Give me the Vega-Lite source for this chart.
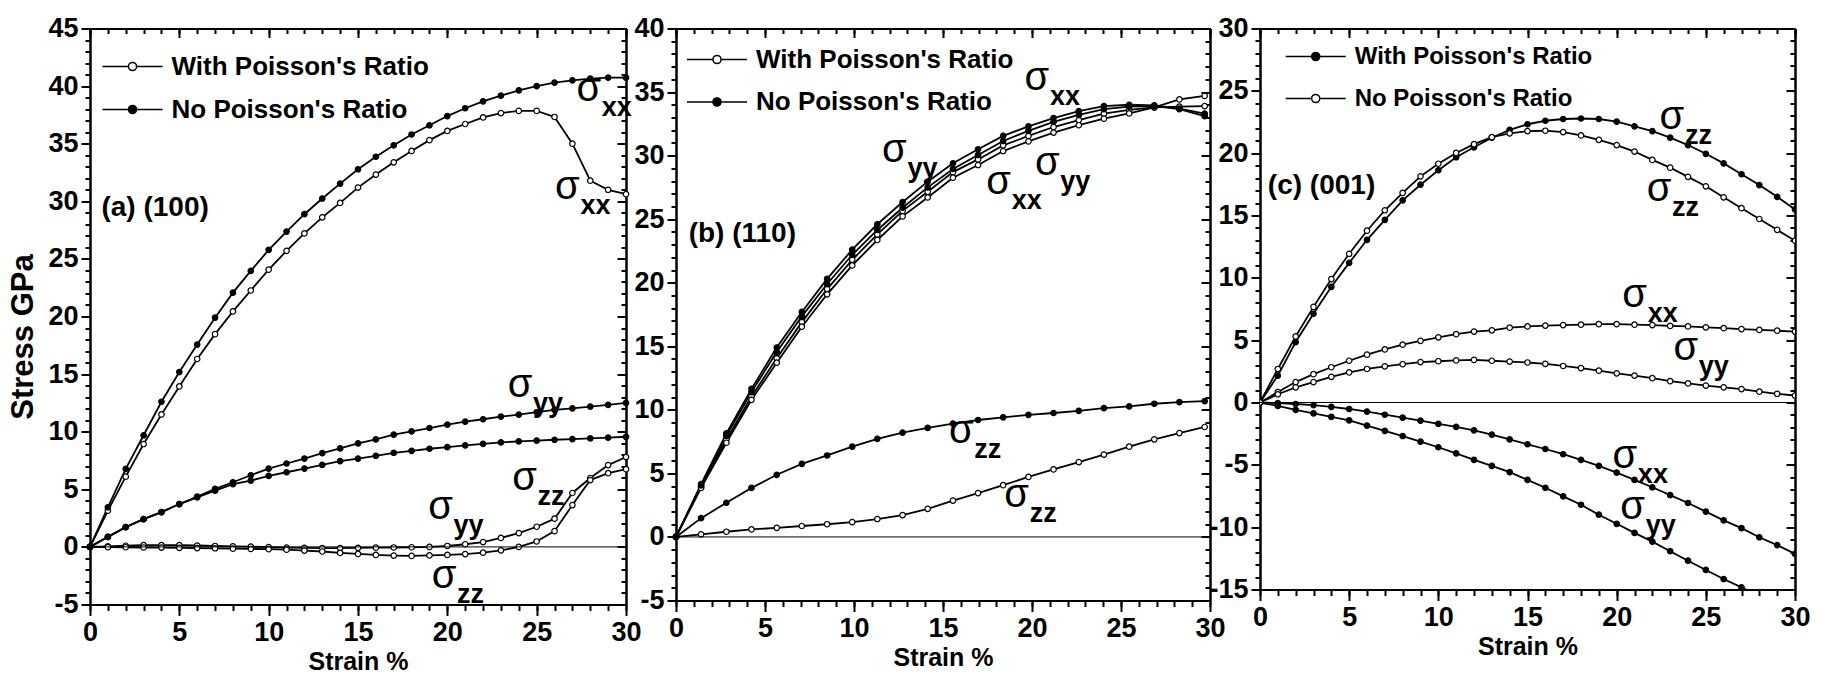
{
"$schema": "https://vega.github.io/schema/vega-lite/v6.json",
"background": "white",
"padding": {"left": 7, "top": 14.5, "right": 0, "bottom": 0},
"datasets": {
"a": [
{"x":0,"xxW":0,"yyW":0,"zzW":0,"xxN":0,"yyN":0,"zzN":0},
{"x":1,"xxW":3.14,"yyW":0.05,"zzW":-0.02,"xxN":3.44,"yyN":0.87,"zzN":0.87},
{"x":2,"xxW":6.1,"yyW":0.1,"zzW":-0.03,"xxN":6.78,"yyN":1.72,"zzN":1.72},
{"x":3,"xxW":8.93,"yyW":0.15,"zzW":-0.05,"xxN":9.69,"yyN":2.41,"zzN":2.41},
{"x":4,"xxW":11.5,"yyW":0.15,"zzW":-0.06,"xxN":12.6,"yyN":3.02,"zzN":3.02},
{"x":5,"xxW":13.93,"yyW":0.15,"zzW":-0.08,"xxN":15.18,"yyN":3.72,"zzN":3.72},
{"x":6,"xxW":16.31,"yyW":0.12,"zzW":-0.1,"xxN":17.56,"yyN":4.36,"zzN":4.3},
{"x":7,"xxW":18.47,"yyW":0.08,"zzW":-0.12,"xxN":19.9,"yyN":5.03,"zzN":4.88},
{"x":8,"xxW":20.44,"yyW":0.05,"zzW":-0.15,"xxN":22.07,"yyN":5.61,"zzN":5.44},
{"x":9,"xxW":22.26,"yyW":0.02,"zzW":-0.18,"xxN":23.96,"yyN":6.22,"zzN":5.76},
{"x":10,"xxW":24.07,"yyW":-0.02,"zzW":-0.2,"xxN":25.78,"yyN":6.8,"zzN":6.16},
{"x":11,"xxW":25.7,"yyW":-0.06,"zzW":-0.24,"xxN":27.37,"yyN":7.24,"zzN":6.48},
{"x":12,"xxW":27.21,"yyW":-0.08,"zzW":-0.32,"xxN":28.88,"yyN":7.67,"zzN":6.8},
{"x":13,"xxW":28.61,"yyW":-0.1,"zzW":-0.4,"xxN":30.24,"yyN":8.14,"zzN":7.12},
{"x":14,"xxW":29.86,"yyW":-0.1,"zzW":-0.52,"xxN":31.53,"yyN":8.55,"zzN":7.44},
{"x":15,"xxW":31.19,"yyW":-0.08,"zzW":-0.61,"xxN":32.78,"yyN":8.98,"zzN":7.67},
{"x":16,"xxW":32.32,"yyW":-0.07,"zzW":-0.7,"xxN":33.87,"yyN":9.33,"zzN":7.91},
{"x":17,"xxW":33.38,"yyW":-0.05,"zzW":-0.75,"xxN":34.86,"yyN":9.74,"zzN":8.17},
{"x":18,"xxW":34.37,"yyW":-0.03,"zzW":-0.78,"xxN":35.8,"yyN":10.03,"zzN":8.34},
{"x":19,"xxW":35.31,"yyW":0.0,"zzW":-0.74,"xxN":36.6,"yyN":10.32,"zzN":8.52},
{"x":20,"xxW":36.11,"yyW":0.08,"zzW":-0.7,"xxN":37.4,"yyN":10.61,"zzN":8.66},
{"x":21,"xxW":36.71,"yyW":0.23,"zzW":-0.62,"xxN":38.08,"yyN":10.87,"zzN":8.81},
{"x":22,"xxW":37.28,"yyW":0.42,"zzW":-0.5,"xxN":38.68,"yyN":11.08,"zzN":8.95},
{"x":23,"xxW":37.66,"yyW":0.78,"zzW":-0.3,"xxN":39.17,"yyN":11.31,"zzN":9.07},
{"x":24,"xxW":37.85,"yyW":1.2,"zzW":0.0,"xxN":39.63,"yyN":11.48,"zzN":9.16},
{"x":25,"xxW":37.85,"yyW":1.75,"zzW":0.47,"xxN":40.0,"yyN":11.69,"zzN":9.22},
{"x":26,"xxW":37.32,"yyW":2.45,"zzW":1.37,"xxN":40.3,"yyN":11.89,"zzN":9.3},
{"x":27,"xxW":35.0,"yyW":4.68,"zzW":3.63,"xxN":40.5,"yyN":12.03,"zzN":9.36},
{"x":28,"xxW":31.79,"yyW":5.98,"zzW":5.8,"xxN":40.65,"yyN":12.18,"zzN":9.42},
{"x":29,"xxW":31.0,"yyW":7.1,"zzW":6.4,"xxN":40.73,"yyN":12.33,"zzN":9.48},
{"x":30,"xxW":30.62,"yyW":7.8,"zzW":6.75,"xxN":40.73,"yyN":12.5,"zzN":9.56}
],
"b": [
{"x":0,"xxW":0,"yyW":0,"zzW":0,"xxN":0,"yyN":0,"zzN":0},
{"x":1.41,"xxW":3.95,"yyW":3.86,"zzW":0.21,"xxN":4.15,"yyN":4.05,"zzN":1.48},
{"x":2.83,"xxW":7.65,"yyW":7.41,"zzW":0.41,"xxN":8.15,"yyN":7.95,"zzN":2.69},
{"x":4.24,"xxW":11.05,"yyW":10.79,"zzW":0.59,"xxN":11.65,"yyN":11.4,"zzN":3.86},
{"x":5.66,"xxW":14.05,"yyW":13.71,"zzW":0.72,"xxN":14.9,"yyN":14.55,"zzN":4.89},
{"x":7.07,"xxW":16.9,"yyW":16.54,"zzW":0.86,"xxN":17.7,"yyN":17.35,"zzN":5.75},
{"x":8.49,"xxW":19.5,"yyW":19.09,"zzW":1.0,"xxN":20.3,"yyN":19.9,"zzN":6.41},
{"x":9.9,"xxW":21.8,"yyW":21.36,"zzW":1.17,"xxN":22.6,"yyN":22.2,"zzN":7.1},
{"x":11.31,"xxW":23.8,"yyW":23.36,"zzW":1.41,"xxN":24.6,"yyN":24.15,"zzN":7.72},
{"x":12.73,"xxW":25.65,"yyW":25.22,"zzW":1.72,"xxN":26.35,"yyN":25.9,"zzN":8.2},
{"x":14.14,"xxW":27.15,"yyW":26.71,"zzW":2.21,"xxN":27.95,"yyN":27.5,"zzN":8.58},
{"x":15.56,"xxW":28.7,"yyW":28.26,"zzW":2.86,"xxN":29.4,"yyN":28.95,"zzN":8.92},
{"x":16.97,"xxW":29.7,"yyW":29.26,"zzW":3.45,"xxN":30.5,"yyN":30.05,"zzN":9.2},
{"x":18.38,"xxW":30.8,"yyW":30.36,"zzW":4.07,"xxN":31.55,"yyN":31.15,"zzN":9.41},
{"x":19.8,"xxW":31.55,"yyW":31.12,"zzW":4.72,"xxN":32.3,"yyN":31.95,"zzN":9.61},
{"x":21.21,"xxW":32.25,"yyW":31.81,"zzW":5.31,"xxN":32.95,"yyN":32.65,"zzN":9.75},
{"x":22.63,"xxW":32.8,"yyW":32.39,"zzW":5.89,"xxN":33.5,"yyN":33.2,"zzN":9.92},
{"x":24.04,"xxW":33.3,"yyW":32.91,"zzW":6.48,"xxN":33.9,"yyN":33.65,"zzN":10.13},
{"x":25.46,"xxW":33.6,"yyW":33.32,"zzW":7.1,"xxN":34.0,"yyN":33.85,"zzN":10.27},
{"x":26.87,"xxW":33.8,"yyW":33.8,"zzW":7.68,"xxN":33.95,"yyN":33.9,"zzN":10.48},
{"x":28.28,"xxW":33.85,"yyW":34.42,"zzW":8.17,"xxN":33.7,"yyN":33.65,"zzN":10.61},
{"x":29.7,"xxW":33.9,"yyW":34.7,"zzW":8.65,"xxN":33.3,"yyN":33.1,"zzN":10.68}
],
"c": [
{"x":0,"xxW":0,"yyW":0,"zzW":0,"xxN":0,"yyN":0,"zzN":0},
{"x":1,"xxW":-0.05,"yyW":-0.28,"zzW":2.16,"xxN":0.84,"yyN":0.66,"zzN":2.69},
{"x":2,"xxW":-0.12,"yyW":-0.59,"zzW":4.85,"xxN":1.64,"yyN":1.22,"zzN":5.3},
{"x":3,"xxW":-0.21,"yyW":-0.87,"zzW":7.12,"xxN":2.27,"yyN":1.64,"zzN":7.67},
{"x":4,"xxW":-0.35,"yyW":-1.15,"zzW":9.28,"xxN":2.83,"yyN":2.06,"zzN":9.9},
{"x":5,"xxW":-0.52,"yyW":-1.43,"zzW":11.2,"xxN":3.35,"yyN":2.41,"zzN":11.93},
{"x":6,"xxW":-0.73,"yyW":-1.85,"zzW":13.05,"xxN":3.84,"yyN":2.69,"zzN":13.78},
{"x":7,"xxW":-0.98,"yyW":-2.27,"zzW":14.65,"xxN":4.26,"yyN":2.9,"zzN":15.42},
{"x":8,"xxW":-1.22,"yyW":-2.69,"zzW":16.22,"xxN":4.64,"yyN":3.07,"zzN":16.81},
{"x":9,"xxW":-1.46,"yyW":-3.14,"zzW":17.47,"xxN":4.95,"yyN":3.24,"zzN":18.14},
{"x":10,"xxW":-1.71,"yyW":-3.59,"zzW":18.63,"xxN":5.23,"yyN":3.31,"zzN":19.15},
{"x":11,"xxW":-1.95,"yyW":-4.08,"zzW":19.67,"xxN":5.48,"yyN":3.38,"zzN":20.02},
{"x":12,"xxW":-2.23,"yyW":-4.6,"zzW":20.47,"xxN":5.69,"yyN":3.42,"zzN":20.72},
{"x":13,"xxW":-2.58,"yyW":-5.09,"zzW":21.24,"xxN":5.79,"yyN":3.35,"zzN":21.28},
{"x":14,"xxW":-2.96,"yyW":-5.58,"zzW":21.87,"xxN":6.0,"yyN":3.28,"zzN":21.59},
{"x":15,"xxW":-3.35,"yyW":-6.21,"zzW":22.32,"xxN":6.1,"yyN":3.21,"zzN":21.77},
{"x":16,"xxW":-3.73,"yyW":-6.84,"zzW":22.6,"xxN":6.17,"yyN":3.1,"zzN":21.8},
{"x":17,"xxW":-4.15,"yyW":-7.53,"zzW":22.74,"xxN":6.21,"yyN":2.93,"zzN":21.69},
{"x":18,"xxW":-4.6,"yyW":-8.2,"zzW":22.78,"xxN":6.24,"yyN":2.76,"zzN":21.42},
{"x":19,"xxW":-5.09,"yyW":-9.0,"zzW":22.74,"xxN":6.28,"yyN":2.55,"zzN":21.07},
{"x":20,"xxW":-5.62,"yyW":-9.73,"zzW":22.53,"xxN":6.28,"yyN":2.34,"zzN":20.65},
{"x":21,"xxW":-6.21,"yyW":-10.46,"zzW":22.15,"xxN":6.24,"yyN":2.16,"zzN":20.13},
{"x":22,"xxW":-6.8,"yyW":-11.16,"zzW":21.77,"xxN":6.21,"yyN":1.95,"zzN":19.46},
{"x":23,"xxW":-7.43,"yyW":-11.93,"zzW":21.24,"xxN":6.14,"yyN":1.71,"zzN":18.84},
{"x":24,"xxW":-8.06,"yyW":-12.69,"zzW":20.65,"xxN":6.1,"yyN":1.53,"zzN":18.1},
{"x":25,"xxW":-8.75,"yyW":-13.43,"zzW":19.95,"xxN":6.03,"yyN":1.36,"zzN":17.34},
{"x":26,"xxW":-9.45,"yyW":-14.16,"zzW":19.18,"xxN":5.96,"yyN":1.22,"zzN":16.46},
{"x":27,"xxW":-10.08,"yyW":-14.83,"zzW":18.31,"xxN":5.89,"yyN":1.08,"zzN":15.59},
{"x":28,"xxW":-10.81,"yyW":-15.55,"zzW":17.44,"xxN":5.82,"yyN":0.87,"zzN":14.72},
{"x":29,"xxW":-11.44,"yyW":null,"zzW":16.5,"xxN":5.76,"yyN":0.7,"zzN":13.85},
{"x":30,"xxW":-12.14,"yyW":null,"zzW":15.49,"xxN":5.69,"yyN":0.56,"zzN":12.98}
],
"sig": [
{"p":"a","x":28.2,"y":39.78,"s":"xx"},
{"p":"a","x":27.0,"y":31.26,"s":"xx"},
{"p":"a","x":24.35,"y":14.04,"s":"yy"},
{"p":"a","x":24.6,"y":6.0,"s":"zz"},
{"p":"a","x":19.9,"y":3.44,"s":"yy"},
{"p":"a","x":20.1,"y":-2.54,"s":"zz"},
{"p":"b","x":20.56,"y":36.1,"s":"xx"},
{"p":"b","x":12.55,"y":30.42,"s":"yy"},
{"p":"b","x":18.41,"y":27.94,"s":"xx"},
{"p":"b","x":21.14,"y":29.39,"s":"yy"},
{"p":"b","x":16.31,"y":8.3,"s":"zz"},
{"p":"b","x":19.42,"y":3.27,"s":"zz"},
{"p":"c","x":23.38,"y":22.92,"s":"zz"},
{"p":"c","x":22.66,"y":17.09,"s":"zz"},
{"p":"c","x":21.29,"y":8.62,"s":"xx"},
{"p":"c","x":24.16,"y":4.36,"s":"yy"},
{"p":"c","x":20.74,"y":-4.29,"s":"xx"},
{"p":"c","x":21.18,"y":-8.37,"s":"yy"}
],
"lab": [
{"p":"a","x":0.64,"y":29.4,"t":"(a) (100)"},
{"p":"b","x":0.71,"y":23.87,"t":"(b) (110)"},
{"p":"c","x":0.44,"y":17.34,"t":"(c) (001)"}
]
},
"spacing": 50,
"bounds": "flush",
"resolve": {"scale": {"fill": "independent"}, "legend": {"fill": "independent"}},
"hconcat": [
{
"width": 536, "height": 576,
"resolve": {"axis": {"x": "independent", "y": "independent"}},
"layer": [
{"data": {"name": "a"},
 "transform": [{"fold": ["xxW","yyW","zzW","xxN","yyN","zzN"], "as": ["key","value"]}],
 "mark": {"type": "line", "color": "black", "strokeWidth": 1.8},
 "encoding": {
  "x": {"field": "x", "type": "quantitative", "scale": {"domain": [0,30], "nice": false, "zero": false},
        "axis": {"orient": "bottom", "values": [0,5,10,15,20,25,30], "tickSize": 11, "labelPadding": 4, "labelExpr": "datum.value + ''", "title": "Strain %", "titlePadding": 4}},
  "y": {"field": "value", "type": "quantitative", "scale": {"domain": [-5,45], "nice": false, "zero": false},
        "axis": {"orient": "left", "values": [-5,0,5,10,15,20,25,30,35,40,45], "tickSize": 9, "labelPadding": 3, "labelExpr": "datum.value + ''", "title": "Stress GPa", "titleFontSize": 31, "titleX": -67, "titleY": 308, "titleAngle": -90, "titleAlign": "center", "titleBaseline": "middle"}},
  "detail": {"field": "key"}
 }},
{"data": {"name": "a"},
 "transform": [{"fold": ["xxW","yyW","zzW","xxN","yyN","zzN"], "as": ["key","value"]}],
 "mark": {"type": "point", "filled": true, "stroke": "black", "strokeWidth": 1.2, "size": 30, "opacity": 1},
 "encoding": {
  "x": {"field": "x", "type": "quantitative", "scale": {"domain": [0,30], "nice": false, "zero": false},
        "axis": {"orient": "bottom", "values": [0,1,2,3,4,5,6,7,8,9,10,11,12,13,14,15,16,17,18,19,20,21,22,23,24,25,26,27,28,29,30], "tickSize": 6, "labels": false, "title": null}},
  "y": {"field": "value", "type": "quantitative", "scale": {"domain": [-5,45], "nice": false, "zero": false},
        "axis": {"orient": "left", "values": [-5,-4,-3,-2,-1,0,1,2,3,4,5,6,7,8,9,10,11,12,13,14,15,16,17,18,19,20,21,22,23,24,25,26,27,28,29,30,31,32,33,34,35,36,37,38,39,40,41,42,43,44,45], "tickSize": 5, "labels": false, "title": null}},
  "fill": {"field": "key", "type": "nominal",
           "scale": {"domain": ["xxW","yyW","zzW","xxN","yyN","zzN"], "range": ["white","white","white","black","black","black"]},
           "legend": {"orient": "none", "legendX": 26.5, "legendY": 22, "values": ["xxW","xxN"], "title": null,
                      "labelExpr": "datum.value == 'xxW' ? \"With Poisson's Ratio\" : \"No Poisson's Ratio\"",
                      "symbolType": "M-2,0H-0.27M0.27,0H2M0.27,0A0.27,0.27,0,1,1,-0.27,0A0.27,0.27,0,1,1,0.27,0Z",
                      "symbolSize": 900, "symbolStrokeColor": "black", "symbolStrokeWidth": 1.5, "symbolOpacity": 1,
                      "labelFont": "Liberation Sans", "labelFontSize": 26, "labelFontWeight": "bold", "labelColor": "black",
                      "labelOffset": 23, "labelLimit": 500, "rowPadding": 14, "padding": 0}}
 }},
{"data": {"values": [{"v": 0}]},
 "mark": {"type": "rule", "color": "black", "strokeWidth": 1},
 "encoding": {"y": {"field": "v", "type": "quantitative", "scale": {"domain": [-5,45], "nice": false, "zero": false}, "axis": null}}},
{"data": {"name": "sig"},
 "transform": [{"filter": "datum.p == 'a'"}],
 "mark": {"type": "text", "font": "Liberation Sans", "fontSize": 40, "align": "center", "baseline": "middle", "dx": -5, "color": "black"},
 "encoding": {
  "text": {"value": "σ"},
  "x": {"field": "x", "type": "quantitative", "scale": {"domain": [0,30], "nice": false, "zero": false},
        "axis": {"orient": "top", "values": [0,5,10,15,20,25,30], "tickSize": -9, "labels": false, "title": null}},
  "y": {"field": "y", "type": "quantitative", "scale": {"domain": [-5,45], "nice": false, "zero": false},
        "axis": {"orient": "right", "values": [-5,0,5,10,15,20,25,30,35,40,45], "tickSize": -9, "labels": false, "title": null}}
 }},
{"data": {"name": "sig"},
 "transform": [{"filter": "datum.p == 'a'"}],
 "mark": {"type": "text", "font": "Liberation Sans", "fontWeight": "bold", "fontSize": 27, "align": "left", "baseline": "middle", "dx": 8, "dy": 19, "color": "black"},
 "encoding": {
  "text": {"field": "s"},
  "x": {"field": "x", "type": "quantitative", "scale": {"domain": [0,30], "nice": false, "zero": false},
        "axis": {"orient": "top", "values": [0,1,2,3,4,5,6,7,8,9,10,11,12,13,14,15,16,17,18,19,20,21,22,23,24,25,26,27,28,29,30], "tickSize": -5, "labels": false, "title": null}},
  "y": {"field": "y", "type": "quantitative", "scale": {"domain": [-5,45], "nice": false, "zero": false},
        "axis": {"orient": "right", "values": [-5,-4,-3,-2,-1,0,1,2,3,4,5,6,7,8,9,10,11,12,13,14,15,16,17,18,19,20,21,22,23,24,25,26,27,28,29,30,31,32,33,34,35,36,37,38,39,40,41,42,43,44,45], "tickSize": -5, "labels": false, "title": null}}
 }},
{"data": {"name": "lab"},
 "transform": [{"filter": "datum.p == 'a'"}],
 "mark": {"type": "text", "font": "Liberation Sans", "fontWeight": "bold", "fontSize": 28, "align": "left", "baseline": "middle", "color": "black"},
 "encoding": {
  "text": {"field": "t"},
  "x": {"field": "x", "type": "quantitative", "scale": {"domain": [0,30], "nice": false, "zero": false}, "axis": null},
  "y": {"field": "y", "type": "quantitative", "scale": {"domain": [-5,45], "nice": false, "zero": false}, "axis": null}
 }}
]
},
{
"width": 534, "height": 572,
"resolve": {"axis": {"x": "independent", "y": "independent"}},
"layer": [
{"data": {"name": "b"},
 "transform": [{"fold": ["xxW","yyW","zzW","xxN","yyN","zzN"], "as": ["key","value"]}],
 "mark": {"type": "line", "color": "black", "strokeWidth": 1.8},
 "encoding": {
  "x": {"field": "x", "type": "quantitative", "scale": {"domain": [0,30], "nice": false, "zero": false},
        "axis": {"orient": "bottom", "values": [0,5,10,15,20,25,30], "tickSize": 11, "labelPadding": 4, "labelExpr": "datum.value + ''", "title": "Strain %", "titlePadding": 4}},
  "y": {"field": "value", "type": "quantitative", "scale": {"domain": [-5,40], "nice": false, "zero": false},
        "axis": {"orient": "left", "values": [-5,0,5,10,15,20,25,30,35,40], "tickSize": 9, "labelPadding": 3, "labelExpr": "datum.value + ''", "title": null}},
  "detail": {"field": "key"}
 }},
{"data": {"name": "b"},
 "transform": [{"fold": ["xxW","yyW","zzW","xxN","yyN","zzN"], "as": ["key","value"]}],
 "mark": {"type": "point", "filled": true, "stroke": "black", "strokeWidth": 1.2, "size": 30, "opacity": 1},
 "encoding": {
  "x": {"field": "x", "type": "quantitative", "scale": {"domain": [0,30], "nice": false, "zero": false},
        "axis": {"orient": "bottom", "values": [0,1,2,3,4,5,6,7,8,9,10,11,12,13,14,15,16,17,18,19,20,21,22,23,24,25,26,27,28,29,30], "tickSize": 6, "labels": false, "title": null}},
  "y": {"field": "value", "type": "quantitative", "scale": {"domain": [-5,40], "nice": false, "zero": false},
        "axis": {"orient": "left", "values": [-5,-4,-3,-2,-1,0,1,2,3,4,5,6,7,8,9,10,11,12,13,14,15,16,17,18,19,20,21,22,23,24,25,26,27,28,29,30,31,32,33,34,35,36,37,38,39,40], "tickSize": 5, "labels": false, "title": null}},
  "fill": {"field": "key", "type": "nominal",
           "scale": {"domain": ["xxW","yyW","zzW","xxN","yyN","zzN"], "range": ["white","white","white","black","black","black"]},
           "legend": {"orient": "none", "legendX": 25, "legendY": 15, "values": ["xxW","xxN"], "title": null,
                      "labelExpr": "datum.value == 'xxW' ? \"With Poisson's Ratio\" : \"No Poisson's Ratio\"",
                      "symbolType": "M-2,0H-0.27M0.27,0H2M0.27,0A0.27,0.27,0,1,1,-0.27,0A0.27,0.27,0,1,1,0.27,0Z",
                      "symbolSize": 900, "symbolStrokeColor": "black", "symbolStrokeWidth": 1.5, "symbolOpacity": 1,
                      "labelFont": "Liberation Sans", "labelFontSize": 26, "labelFontWeight": "bold", "labelColor": "black",
                      "labelOffset": 23, "labelLimit": 500, "rowPadding": 13.5, "padding": 0}}
 }},
{"data": {"values": [{"v": 0}]},
 "mark": {"type": "rule", "color": "black", "strokeWidth": 1},
 "encoding": {"y": {"field": "v", "type": "quantitative", "scale": {"domain": [-5,40], "nice": false, "zero": false}, "axis": null}}},
{"data": {"name": "sig"},
 "transform": [{"filter": "datum.p == 'b'"}],
 "mark": {"type": "text", "font": "Liberation Sans", "fontSize": 40, "align": "center", "baseline": "middle", "dx": -5, "color": "black"},
 "encoding": {
  "text": {"value": "σ"},
  "x": {"field": "x", "type": "quantitative", "scale": {"domain": [0,30], "nice": false, "zero": false},
        "axis": {"orient": "top", "values": [0,5,10,15,20,25,30], "tickSize": -9, "labels": false, "title": null}},
  "y": {"field": "y", "type": "quantitative", "scale": {"domain": [-5,40], "nice": false, "zero": false},
        "axis": {"orient": "right", "values": [-5,0,5,10,15,20,25,30,35,40], "tickSize": -9, "labels": false, "title": null}}
 }},
{"data": {"name": "sig"},
 "transform": [{"filter": "datum.p == 'b'"}],
 "mark": {"type": "text", "font": "Liberation Sans", "fontWeight": "bold", "fontSize": 27, "align": "left", "baseline": "middle", "dx": 8, "dy": 19, "color": "black"},
 "encoding": {
  "text": {"field": "s"},
  "x": {"field": "x", "type": "quantitative", "scale": {"domain": [0,30], "nice": false, "zero": false},
        "axis": {"orient": "top", "values": [0,1,2,3,4,5,6,7,8,9,10,11,12,13,14,15,16,17,18,19,20,21,22,23,24,25,26,27,28,29,30], "tickSize": -5, "labels": false, "title": null}},
  "y": {"field": "y", "type": "quantitative", "scale": {"domain": [-5,40], "nice": false, "zero": false},
        "axis": {"orient": "right", "values": [-5,-4,-3,-2,-1,0,1,2,3,4,5,6,7,8,9,10,11,12,13,14,15,16,17,18,19,20,21,22,23,24,25,26,27,28,29,30,31,32,33,34,35,36,37,38,39,40], "tickSize": -5, "labels": false, "title": null}}
 }},
{"data": {"name": "lab"},
 "transform": [{"filter": "datum.p == 'b'"}],
 "mark": {"type": "text", "font": "Liberation Sans", "fontWeight": "bold", "fontSize": 28, "align": "left", "baseline": "middle", "color": "black"},
 "encoding": {
  "text": {"field": "t"},
  "x": {"field": "x", "type": "quantitative", "scale": {"domain": [0,30], "nice": false, "zero": false}, "axis": null},
  "y": {"field": "y", "type": "quantitative", "scale": {"domain": [-5,40], "nice": false, "zero": false}, "axis": null}
 }}
]
},
{
"width": 535, "height": 561,
"resolve": {"axis": {"x": "independent", "y": "independent"}},
"layer": [
{"data": {"name": "c"},
 "transform": [{"fold": ["xxW","yyW","zzW","xxN","yyN","zzN"], "as": ["key","value"]}],
 "mark": {"type": "line", "color": "black", "strokeWidth": 1.8, "clip": true},
 "encoding": {
  "x": {"field": "x", "type": "quantitative", "scale": {"domain": [0,30], "nice": false, "zero": false},
        "axis": {"orient": "bottom", "values": [0,5,10,15,20,25,30], "tickSize": 11, "labelPadding": 4, "labelExpr": "datum.value + ''", "title": "Strain %", "titlePadding": 4}},
  "y": {"field": "value", "type": "quantitative", "scale": {"domain": [-15,30], "nice": false, "zero": false},
        "axis": {"orient": "left", "values": [-15,-10,-5,0,5,10,15,20,25,30], "tickSize": 9, "labelPadding": 3, "labelExpr": "datum.value + ''", "title": null}},
  "detail": {"field": "key"}
 }},
{"data": {"name": "c"},
 "transform": [{"fold": ["xxW","yyW","zzW","xxN","yyN","zzN"], "as": ["key","value"]}],
 "mark": {"type": "point", "filled": true, "stroke": "black", "strokeWidth": 1.2, "size": 30, "opacity": 1, "clip": true},
 "encoding": {
  "x": {"field": "x", "type": "quantitative", "scale": {"domain": [0,30], "nice": false, "zero": false},
        "axis": {"orient": "bottom", "values": [0,1,2,3,4,5,6,7,8,9,10,11,12,13,14,15,16,17,18,19,20,21,22,23,24,25,26,27,28,29,30], "tickSize": 6, "labels": false, "title": null}},
  "y": {"field": "value", "type": "quantitative", "scale": {"domain": [-15,30], "nice": false, "zero": false},
        "axis": {"orient": "left", "values": [-15,-14,-13,-12,-11,-10,-9,-8,-7,-6,-5,-4,-3,-2,-1,0,1,2,3,4,5,6,7,8,9,10,11,12,13,14,15,16,17,18,19,20,21,22,23,24,25,26,27,28,29,30], "tickSize": 5, "labels": false, "title": null}},
  "fill": {"field": "key", "type": "nominal",
           "scale": {"domain": ["xxW","yyW","zzW","xxN","yyN","zzN"], "range": ["black","black","black","white","white","white"]},
           "legend": {"orient": "none", "legendX": 39.7, "legendY": 12, "values": ["xxW","xxN"], "title": null,
                      "labelExpr": "datum.value == 'xxW' ? \"With Poisson's Ratio\" : \"No Poisson's Ratio\"",
                      "symbolType": "M-2,0H-0.27M0.27,0H2M0.27,0A0.27,0.27,0,1,1,-0.27,0A0.27,0.27,0,1,1,0.27,0Z",
                      "symbolSize": 900, "symbolStrokeColor": "black", "symbolStrokeWidth": 1.5, "symbolOpacity": 1,
                      "labelFont": "Liberation Sans", "labelFontSize": 24, "labelFontWeight": "bold", "labelColor": "black",
                      "labelOffset": 23, "labelLimit": 500, "rowPadding": 14, "padding": 0}}
 }},
{"data": {"values": [{"v": 0}]},
 "mark": {"type": "rule", "color": "black", "strokeWidth": 1},
 "encoding": {"y": {"field": "v", "type": "quantitative", "scale": {"domain": [-15,30], "nice": false, "zero": false}, "axis": null}}},
{"data": {"name": "sig"},
 "transform": [{"filter": "datum.p == 'c'"}],
 "mark": {"type": "text", "font": "Liberation Sans", "fontSize": 40, "align": "center", "baseline": "middle", "dx": -5, "color": "black"},
 "encoding": {
  "text": {"value": "σ"},
  "x": {"field": "x", "type": "quantitative", "scale": {"domain": [0,30], "nice": false, "zero": false},
        "axis": {"orient": "top", "values": [0,5,10,15,20,25,30], "tickSize": -9, "labels": false, "title": null}},
  "y": {"field": "y", "type": "quantitative", "scale": {"domain": [-15,30], "nice": false, "zero": false},
        "axis": {"orient": "right", "values": [-15,-10,-5,0,5,10,15,20,25,30], "tickSize": -9, "labels": false, "title": null}}
 }},
{"data": {"name": "sig"},
 "transform": [{"filter": "datum.p == 'c'"}],
 "mark": {"type": "text", "font": "Liberation Sans", "fontWeight": "bold", "fontSize": 27, "align": "left", "baseline": "middle", "dx": 8, "dy": 19, "color": "black"},
 "encoding": {
  "text": {"field": "s"},
  "x": {"field": "x", "type": "quantitative", "scale": {"domain": [0,30], "nice": false, "zero": false},
        "axis": {"orient": "top", "values": [0,1,2,3,4,5,6,7,8,9,10,11,12,13,14,15,16,17,18,19,20,21,22,23,24,25,26,27,28,29,30], "tickSize": -5, "labels": false, "title": null}},
  "y": {"field": "y", "type": "quantitative", "scale": {"domain": [-15,30], "nice": false, "zero": false},
        "axis": {"orient": "right", "values": [-15,-14,-13,-12,-11,-10,-9,-8,-7,-6,-5,-4,-3,-2,-1,0,1,2,3,4,5,6,7,8,9,10,11,12,13,14,15,16,17,18,19,20,21,22,23,24,25,26,27,28,29,30], "tickSize": -5, "labels": false, "title": null}}
 }},
{"data": {"name": "lab"},
 "transform": [{"filter": "datum.p == 'c'"}],
 "mark": {"type": "text", "font": "Liberation Sans", "fontWeight": "bold", "fontSize": 28, "align": "left", "baseline": "middle", "color": "black"},
 "encoding": {
  "text": {"field": "t"},
  "x": {"field": "x", "type": "quantitative", "scale": {"domain": [0,30], "nice": false, "zero": false}, "axis": null},
  "y": {"field": "y", "type": "quantitative", "scale": {"domain": [-15,30], "nice": false, "zero": false}, "axis": null}
 }}
]
}
],
"config": {
 "view": {"stroke": null},
 "axis": {"domainColor": "black", "domainWidth": 2, "tickColor": "black", "tickWidth": 2, "grid": false,
          "labelColor": "black", "labelFont": "Liberation Sans", "labelFontSize": 27, "labelFontWeight": "bold",
          "labelOverlap": false, "labelFlush": false,
          "titleColor": "black", "titleFont": "Liberation Sans", "titleFontSize": 25, "titleFontWeight": "bold"}
}
}
